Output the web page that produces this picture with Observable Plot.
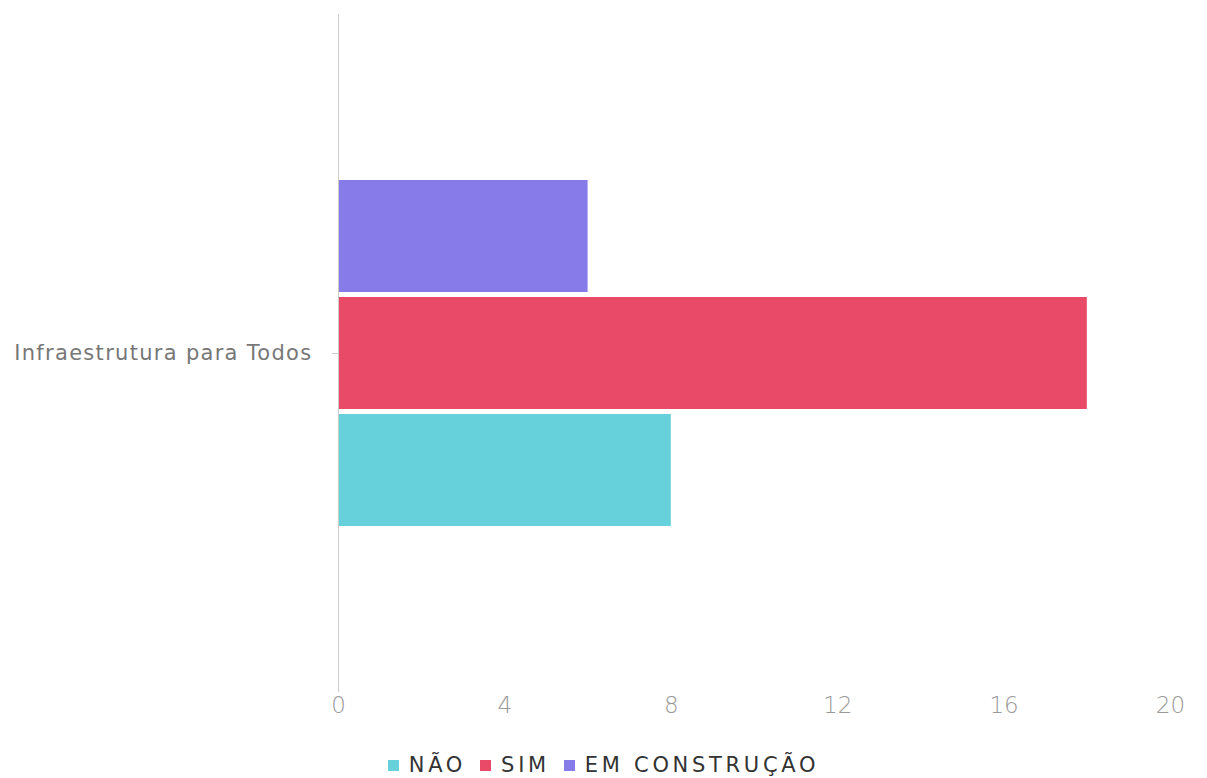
<!DOCTYPE html>
<html>
<head>
<meta charset="utf-8">
<script src="https://cdn.jsdelivr.net/npm/d3@7"></script>
<script src="https://cdn.jsdelivr.net/npm/@observablehq/plot@0.6"></script>
<style>
  html, body { margin: 0; padding: 0; background: #fff; }
  body { width: 1207px; font-family: "DejaVu Sans", sans-serif; }
  #legend { display: flex; justify-content: center; align-items: center; margin-top: 22px; height: 26px; font-size: 21px; color: #333; letter-spacing: 3.7px; }
  #legend .item { display: flex; align-items: center; margin: 0 7px; }
  #legend .sw { width: 11px; height: 11px; margin-right: 10px; }
  .xax text { font-weight: 200; }
  .fyax text { letter-spacing: 1.3px; }
</style>
</head>
<body>
<div id="chart"></div>
<div id="legend"></div>
<script>
const categories = ["Infraestrutura para Todos"];
const series = ["NÃO", "SIM", "EM CONSTRUÇÃO"];
const values = [8, 18, 6];
const colors = ["#66d0db", "#e84a68", "#877be9"];
const xTicks = [0, 4, 8, 12, 16, 20];

const data = series.map((s, i) => ({category: categories[0], series: s, value: values[i]}));

const chart = Plot.plot({
  width: 1207,
  height: 730,
  marginLeft: 338,
  marginRight: 37,
  marginTop: 14,
  marginBottom: 38,
  style: {fontFamily: "'DejaVu Sans', sans-serif", background: "#fff"},
  x: {domain: [0, 20], label: null},
  y: {domain: series.slice().reverse(), axis: null, paddingInner: 0.043, paddingOuter: 1.41},
  fy: {domain: categories, padding: 0, label: null},
  color: {domain: series, range: colors},
  marks: [
    Plot.axisX({ticks: xTicks, tickSize: 0, tickPadding: 4, fontSize: 23, fill: "#999", label: null, className: "xax"}),
    Plot.axisFy({anchor: "left", tickSize: 6, tickPadding: 20, fontSize: 21, fill: "#777", stroke: "#ccc", label: null, className: "fyax"}),
    Plot.barX(data, {x: "value", y: "series", fy: "category", fill: "series"}),
    Plot.ruleX([0], {stroke: "#ccc"})
  ]
});
document.getElementById("chart").appendChild(chart);

const legend = d3.select("#legend");
series.forEach((s, i) => {
  const it = legend.append("div").attr("class", "item");
  it.append("div").attr("class", "sw").style("background", colors[i]);
  it.append("span").text(s);
});
</script>
</body>
</html>
